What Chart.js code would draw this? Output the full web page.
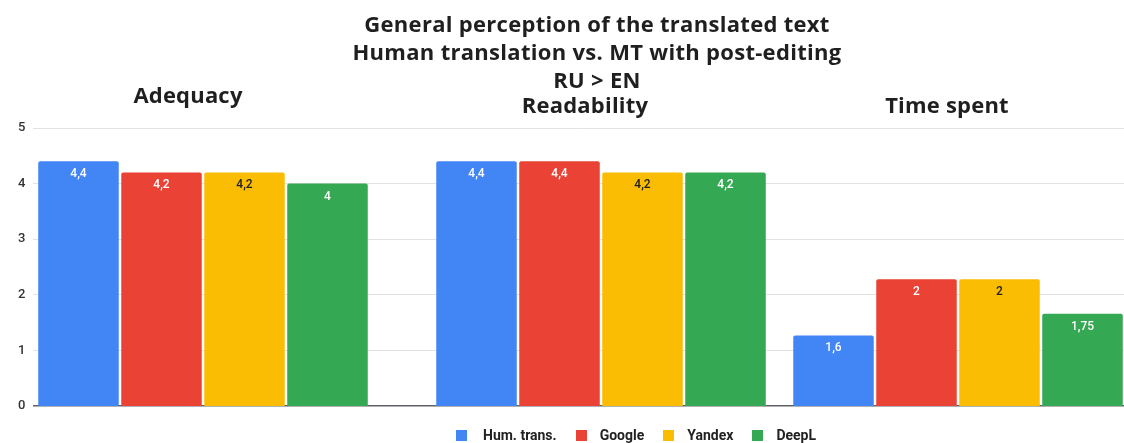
<!DOCTYPE html>
<html>
<head>
<meta charset="utf-8">
<script src="https://cdn.jsdelivr.net/npm/chart.js@4"></script>
<style>
    body { margin: 0; background: #fff; }
    #stage { position: relative; width: 1124px; height: 443px; overflow: hidden; background: #fff; }
    #stage canvas { position: absolute; }
    .title { position: absolute; left: 0; width: 1194px; top: 9px; text-align: center; letter-spacing: 0.3px;
             font: 700 22px/28px "Open Sans", sans-serif; color: #1f1f1f; }
    .group-head { position: absolute; transform: translateX(-50%); white-space: nowrap; letter-spacing: 0.2px;
                  font: 700 22px/27px "Open Sans", sans-serif; color: #1f1f1f; }
    #legend { position: absolute; left: 456px; top: 427px; display: flex; align-items: center;
              font: 700 14px Roboto, sans-serif; color: #222; white-space: nowrap; }
    #legend .sw { width: 11px; height: 11px; margin-right: 13px; }
    #legend .item { display: flex; align-items: center; margin-right: 19px; }
    #legend .item:first-child .sw { margin-right: 16px; }
</style>
</head>
<body>
<div id="stage">
    <canvas id="base" width="1124" height="443"></canvas>
    <div class="title">General perception of the translated text<br>Human translation vs. MT with post-editing<br>RU &gt; EN</div>
    <div id="heads"></div>
    <div id="legend"></div>
</div>
<script>
// Series and groups
const seriesNames = ['Hum. trans.', 'Google', 'Yandex', 'DeepL'];
const seriesColors = ['#4285F4', '#EA4335', '#FBBC04', '#34A853'];
const categories = ['Adequacy', 'Readability', 'Time spent'];

// Bar heights as drawn in the picture
const adequacy = [4.4, 4.2, 4.2, 4.0];
const readability = [4.4, 4.4, 4.2, 4.2];
const timeSpent = [1.27, 2.28, 2.28, 1.66];

// Printed value labels
const adequacyLabels = ['4,4', '4,2', '4,2', '4'];
const readabilityLabels = ['4,4', '4,4', '4,2', '4,2'];
const timeSpentLabels = ['1,6', '2', '2', '1,75'];

const yTicks = [0, 1, 2, 3, 4, 5];

// Layout of the three groups (left edge of each group's box, header placement)
const groupBoxes = [
    { left: 37, width: 332, headX: 188, headBaseline: 103 },
    { left: 435, width: 332, headX: 585, headBaseline: 113 },
    { left: 792, width: 332, headX: 947, headBaseline: 113 }
];

const groupValues = [adequacy, readability, timeSpent];
const groupLabels = [adequacyLabels, readabilityLabels, timeSpentLabels];

// Base chart: y axis, gridlines, baseline
const baseChart = new Chart(document.getElementById('base'), {
    type: 'bar',
    data: { labels: categories, datasets: [] },
    options: {
        responsive: false,
        animation: false,
        layout: { padding: { top: 128, bottom: 37, left: 10, right: 0 } },
        plugins: { legend: { display: false }, tooltip: { enabled: false } },
        scales: {
            x: { display: false },
            y: {
                min: 0,
                max: 5,
                afterBuildTicks: axis => { axis.ticks = yTicks.map(v => ({ value: v })); },
                border: { display: false },
                grid: {
                    drawTicks: false,
                    color: c => c.tick.value === 0 ? '#5f6368' : '#e2e2e2',
                    lineWidth: c => c.tick.value === 0 ? 1.5 : 1
                },
                ticks: {
                    padding: 8,
                    color: '#333',
                    font: { family: 'Roboto', size: 13, weight: '500' }
                }
            }
        }
    }
});

const area = baseChart.chartArea;

// Value labels inside bar tops
function makeValueLabels(texts) {
    return {
        id: 'valueLabels',
        afterDatasetsDraw(chart) {
            const ctx = chart.ctx;
            chart.data.datasets.forEach((ds, i) => {
                chart.getDatasetMeta(i).data.forEach(bar => {
                    ctx.save();
                    ctx.font = '500 12px Roboto';
                    ctx.fillStyle = i === 2 ? '#202124' : '#ffffff';
                    ctx.textAlign = 'center';
                    ctx.textBaseline = 'middle';
                    ctx.fillText(texts[i], bar.x, bar.y + 13);
                    ctx.restore();
                });
            });
        }
    };
}

// One overlay chart per group, sharing the base chart's vertical area
const stage = document.getElementById('stage');
const heads = document.getElementById('heads');

groupBoxes.forEach((box, g) => {
    const canvas = document.createElement('canvas');
    canvas.width = box.width;
    canvas.height = Math.round(area.bottom - area.top);
    canvas.style.left = box.left + 'px';
    canvas.style.top = Math.round(area.top) + 'px';
    stage.appendChild(canvas);

    new Chart(canvas, {
        type: 'bar',
        data: {
            labels: [categories[g]],
            datasets: seriesNames.map((name, i) => ({
                label: name,
                data: [groupValues[g][i]],
                backgroundColor: seriesColors[i],
                borderRadius: { topLeft: 2, topRight: 2 },
                borderSkipped: 'start',
                categoryPercentage: 1,
                barPercentage: 0.97
            }))
        },
        options: {
            responsive: false,
            animation: false,
            layout: { padding: 0 },
            plugins: { legend: { display: false }, tooltip: { enabled: false } },
            scales: {
                x: { display: false },
                y: { display: false, min: 0, max: 5 }
            }
        },
        plugins: [makeValueLabels(groupLabels[g])]
    });

    const head = document.createElement('div');
    head.className = 'group-head';
    head.textContent = categories[g];
    head.style.left = box.headX + 'px';
    head.style.top = (box.headBaseline - 22) + 'px';
    heads.appendChild(head);
});

// Legend
document.getElementById('legend').innerHTML = seriesNames.map((name, i) => `
    <div class="item"><div class="sw" style="background:${seriesColors[i]}"></div>${name}</div>
`).join('');
</script>
</body>
</html>
